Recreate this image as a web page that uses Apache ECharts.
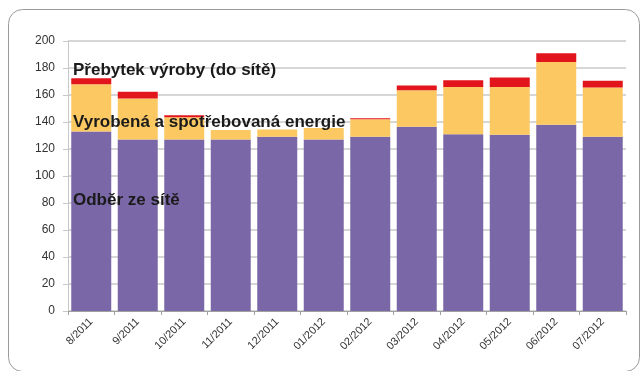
<!DOCTYPE html>
<html>
<head>
<meta charset="utf-8">
<script src="https://cdn.jsdelivr.net/npm/echarts@6/dist/echarts.min.js"></script>
<style>
  html, body { margin: 0; padding: 0; background: #fff; }
  #chart { width: 643px; height: 371px; }
</style>
</head>
<body>
<div id="chart"></div>
<script>
// Monthly energy balance (stacked): grid draw, self-consumed production, surplus to grid
var months = ['8/2011', '9/2011', '10/2011', '11/2011', '12/2011', '01/2012',
              '02/2012', '03/2012', '04/2012', '05/2012', '06/2012', '07/2012'];
var odberZeSite = [133, 127, 127, 127, 129, 127, 129, 136.5, 131, 130.5, 138, 129];
var vyrobenaSpotrebovana = [35, 30.5, 16.5, 7, 5.5, 8.5, 13, 27, 35, 35.5, 46.5, 36.5];
var prebytek = [4.5, 5, 1.5, 0, 0, 0, 0.7, 3.5, 5, 7, 6.5, 5];
var yTicks = [0, 200, 20];

var chart = echarts.init(document.getElementById('chart'));
var font = 'Liberation Sans, Arial, sans-serif';

chart.setOption({
  animation: false,
  grid: { left: 68, right: 17, top: 41, bottom: 60 },
  xAxis: {
    type: 'category',
    data: months,
    axisLine: { lineStyle: { color: '#a0a0a0', width: 1 } },
    axisTick: { show: true, lineStyle: { color: '#a0a0a0' }, length: 4 },
    axisLabel: { rotate: 45, fontSize: 11, color: '#333', fontFamily: font, margin: 9 }
  },
  yAxis: {
    type: 'value',
    min: yTicks[0], max: yTicks[1], interval: yTicks[2],
    axisLine: { show: true, lineStyle: { color: '#c8c8c8' } },
    axisTick: { show: true, length: 5, lineStyle: { color: '#c8c8c8' } },
    splitLine: { lineStyle: { color: '#d6d6d6', width: 2 } },
    axisLabel: { fontSize: 12, color: '#333', fontFamily: font, margin: 13 }
  },
  series: [
    { name: 'Odběr ze sítě', type: 'bar', stack: 'e', data: odberZeSite,
      barCategoryGap: '14%', itemStyle: { color: '#7a67a7' } },
    { name: 'Vyrobená a spotřebovaná energie', type: 'bar', stack: 'e', data: vyrobenaSpotrebovana,
      itemStyle: { color: '#fbc862' } },
    { name: 'Přebytek výroby (do sítě)', type: 'bar', stack: 'e', data: prebytek,
      itemStyle: { color: '#e2141c' } }
  ],
  graphic: [
    { type: 'rect', left: 6, top: 7, z: -10, silent: true,
      shape: { width: 631, height: 362, r: 14 },
      style: { fill: 'none', stroke: '#9a9a9a', lineWidth: 1 } },
    { type: 'text', left: 73, top: 62, z: 100,
      style: { text: 'Přebytek výroby (do sítě)', font: 'bold 17px ' + font, fill: '#1a1a1a' } },
    { type: 'text', left: 73, top: 114, z: 100,
      style: { text: 'Vyrobená a spotřebovaná energie', font: 'bold 17px ' + font, fill: '#1a1a1a' } },
    { type: 'text', left: 73, top: 192, z: 100,
      style: { text: 'Odběr ze sítě', font: 'bold 17px ' + font, fill: '#1a1a1a' } }
  ]
});
</script>
</body>
</html>
